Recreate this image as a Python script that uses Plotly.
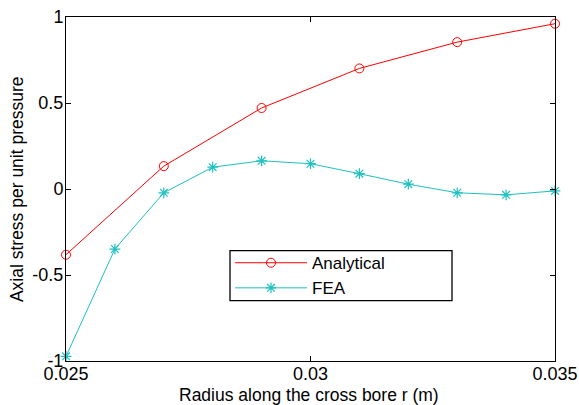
import plotly.graph_objects as go

r_analytical = [0.025, 0.027, 0.029, 0.031, 0.033, 0.035]
analytical = [-0.382, 0.133, 0.471, 0.701, 0.854, 0.961]

r_fea = [0.025, 0.026, 0.027, 0.028, 0.029, 0.030, 0.031, 0.032, 0.033, 0.034, 0.035]
fea = [-0.973, -0.349, -0.022, 0.127, 0.164, 0.147, 0.089, 0.028, -0.022, -0.034, -0.011]

x_ticks = [0.025, 0.03, 0.035]
x_tick_text = ["0.025", "0.03", "0.035"]
y_ticks = [-1, -0.5, 0, 0.5, 1]
y_tick_text = ["-1", "-0.5", "0", "0.5", "1"]

x_title = "Radius along the cross bore r (m)"
y_title = "Axial stress per unit pressure"

fig = go.Figure()
fig.add_trace(go.Scatter(
    x=r_analytical, y=analytical, name="Analytical", mode="lines+markers",
    line=dict(color="#FF0000", width=1),
    marker=dict(symbol="circle-open", size=9, color="#FF0000", line=dict(width=1)),
    cliponaxis=False,
))
fig.add_trace(go.Scatter(
    x=r_fea, y=fea, name="FEA", mode="lines+markers",
    line=dict(color="#1FC0C0", width=1),
    marker=dict(symbol="asterisk-open", size=9, color="#1FC0C0", line=dict(width=1.2, color="#1FC0C0")),
    cliponaxis=False,
))

font = "Arial, Liberation Sans, sans-serif"
fig.update_layout(
    width=579, height=405,
    margin=dict(l=66, r=24, t=17, b=44),
    paper_bgcolor="white", plot_bgcolor="white",
    font=dict(family=font, size=17, color="black"),
    showlegend=True,
    legend=dict(
        x=0.3354, y=0.248, xanchor="left", yanchor="middle",
        borderwidth=0, bgcolor="rgba(0,0,0,0)",
        font=dict(family=font, size=17, color="black"),
        itemwidth=72, tracegroupgap=0,
    ),
    shapes=[
        dict(type="rect", xref="paper", yref="paper",
             x0=0.3354, x1=0.7894, y0=0.1753, y1=0.3206,
             line=dict(color="black", width=1.3), fillcolor="rgba(0,0,0,0)"),
    ],
    xaxis=dict(
        range=[0.025, 0.035], tickvals=x_ticks, ticktext=x_tick_text,
        ticks="inside", ticklen=5, tickcolor="black", showgrid=False, zeroline=False,
        showline=True, linecolor="black", linewidth=1, mirror="ticks",
        tickfont=dict(family=font, size=18), automargin=False, ticklabeloverflow="allow",
        ticklabelstandoff=-4,
    ),
    yaxis=dict(
        range=[-1, 1], tickvals=y_ticks, ticktext=y_tick_text,
        ticks="inside", ticklen=5, tickcolor="black", showgrid=False, zeroline=False,
        showline=True, linecolor="black", linewidth=1, mirror="ticks",
        tickfont=dict(family=font, size=18), automargin=False, ticklabeloverflow="allow",
        ticklabelstandoff=-2,
    ),
    annotations=[
        dict(text=x_title, xref="paper", yref="paper", x=0.496, y=-0.1,
             xanchor="center", yanchor="middle", showarrow=False,
             font=dict(family=font, size=17.5)),
        dict(text=y_title, xref="paper", yref="paper", x=-0.1, y=0.5, textangle=-90,
             xanchor="center", yanchor="middle", showarrow=False,
             font=dict(family=font, size=17.5)),
    ],
)

fig.write_html("out.html")
